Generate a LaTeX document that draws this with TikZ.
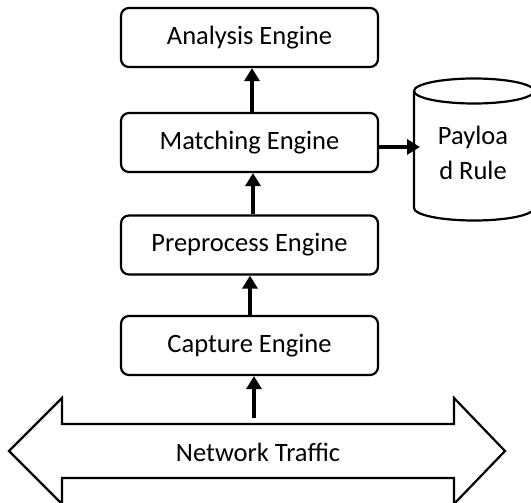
\documentclass[tikz,border=0pt]{standalone}
\usepackage{fontspec}
\setmainfont{Carlito}
\usetikzlibrary{arrows.meta}
\begin{document}
\begin{tikzpicture}[x=1pt,y=-1pt,
  font=\fontsize{26.5}{35}\selectfont,
  engine/.style={draw,line width=2.2pt,rounded corners=8pt,minimum width=257pt,minimum height=59pt,inner sep=0pt},
  flow/.style={line width=3.2pt,-{Triangle[width=15pt,length=13pt]}},
  outline/.style={line width=2.2pt,line join=miter}]
\useasboundingbox (0,0) rectangle (531,503);

% processing engines
\node[engine] (ana) at (249.5,37.5) {Analysis Engine};
\node[engine] (match) at (249.5,142.5) {Matching Engine};
\node[engine] (pre) at (249.5,245) {Preprocess Engine};
\node[engine] (cap) at (249.5,345.5) {Capture Engine};

% rule store (cylinder)
\draw[outline] (474,91) ellipse [x radius=60pt, y radius=12.5pt];
\draw[outline] (414,91) -- (414,208) arc [start angle=180, end angle=360, x radius=60pt, y radius=12.5pt] -- (534,91);
\coordinate (store) at (414,147);
\node[align=center,inner sep=0pt] (rule) at (473,153) {Payloa\\d Rule};

% network traffic double arrow
\draw[outline] (9,451) -- (62,398) -- (62,424) -- (454,424) -- (454,398) -- (505,451)
  -- (454,504) -- (454,478) -- (62,478) -- (62,504) -- cycle;
\node (net) at (258,452) {Network Traffic};
\coordinate (netTop) at (254,418);

% data flow
\draw[flow] (netTop) -- (cap.south -| netTop);
\draw[flow] ([xshift=0.5pt]cap.north) -- ([xshift=0.5pt]pre.south);
\draw[flow] ([xshift=3.5pt]pre.north) -- ([xshift=3.5pt]match.south);
\draw[flow] ([xshift=2.5pt]match.north) -- ([xshift=2.5pt]ana.south);
\draw[flow,shorten >=-6pt] (match.east |- store) -- (store);
\end{tikzpicture}
\end{document}
